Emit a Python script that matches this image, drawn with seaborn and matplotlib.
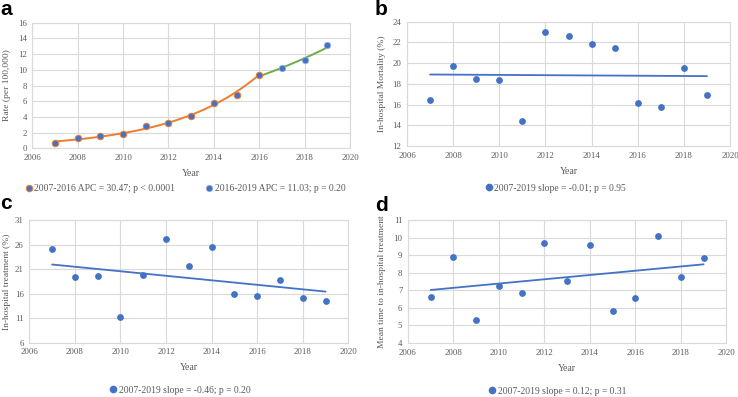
import numpy as np
import pandas as pd
import matplotlib
matplotlib.use("Agg")
import matplotlib.pyplot as plt
import seaborn as sns

# ---------------- data ----------------
years = [2007, 2008, 2009, 2010, 2011, 2012, 2013, 2014, 2015, 2016, 2017, 2018, 2019]
rate = [0.71, 1.31, 1.60, 1.86, 2.84, 3.26, 4.08, 5.73, 6.75, 9.30, 10.19, 11.20, 13.10]
mortality = [16.44, 19.72, 18.47, 18.37, 14.38, 22.97, 22.65, 21.85, 21.49, 16.18, 15.76, 19.53, 16.92]
treatment = [25.2, 19.42, 19.56, 11.19, 19.83, 27.1, 21.67, 25.55, 16.0, 15.48, 18.87, 15.2, 14.58]
time_to_treat = [6.64, 8.93, 5.31, 7.24, 6.84, 9.69, 7.56, 9.58, 5.81, 6.57, 10.09, 7.75, 8.83]

seg1_label = "2007-2016 APC = 30.47; p < 0.0001"
seg2_label = "2016-2019 APC = 11.03; p = 0.20"
b_label = "2007-2019 slope = -0.01; p = 0.95"
c_label = "2007-2019 slope = -0.46; p = 0.20"
d_label = "2007-2019 slope = 0.12; p = 0.31"

BLUE = "#4472C4"
ORANGE = "#ED7D31"
GREEN = "#70AD47"
GRID = "#D9D9D9"
TXT = "#595959"

sns.set_theme(style="white")
plt.rcParams["font.family"] = ["Liberation Serif", "DejaVu Serif"]

fig = plt.figure(figsize=(7.38, 3.97), dpi=100)

pos = {
    "a": [0.0438, 0.6264, 0.4305, 0.3164],
    "b": [0.5515, 0.6322, 0.4377, 0.3131],
    "c": [0.0397, 0.1368, 0.4323, 0.3083],
    "d": [0.5528, 0.1360, 0.4313, 0.3091],
}

def style(ax, ylim, ystep, ylabel, ypad=5):
    ax.set_xlim(2006, 2020)
    ax.set_xticks(np.arange(2006, 2021, 2))
    ax.set_ylim(*ylim)
    ax.set_yticks(np.arange(ylim[0], ylim[1] + 0.01, ystep))
    ax.grid(True, color=GRID, linewidth=0.8)
    ax.set_axisbelow(True)
    for s in ax.spines.values():
        s.set_color(GRID)
        s.set_linewidth(0.8)
    ax.tick_params(axis="both", length=0, labelsize=6.3, colors=TXT, pad=4)
    ax.set_xlabel("Year", fontsize=7, color=TXT, labelpad=5)
    ax.set_ylabel(ylabel, fontsize=6.8, color=TXT, labelpad=ypad)

def add_legend(ax, handles, labels, xc, yc):
    ax.legend(handles, labels, loc="center", bbox_to_anchor=(xc, yc),
              bbox_transform=fig.transFigure, frameon=False, ncol=len(handles),
              fontsize=6.9, handletextpad=0.1, columnspacing=3.0,
              handlelength=1.0, labelcolor=TXT)

# ---------------- panel a ----------------
ax = fig.add_axes(pos["a"])
df = pd.DataFrame({"year": years, "rate": rate})
s1 = df[df.year <= 2016]
s2 = df[df.year >= 2016]

def loglin_fit(d):
    x = d.year.to_numpy(float)
    c = np.polyfit(x, np.log(d.rate.to_numpy(float)), 1)
    xs = np.linspace(x.min(), x.max(), 100)
    return pd.DataFrame({"year": xs, "fit": np.exp(np.polyval(c, xs))})

f1 = loglin_fit(s1)
f2 = loglin_fit(s2)
sns.lineplot(data=f1, x="year", y="fit", color=ORANGE, linewidth=1.4, ax=ax, legend=False)
sns.lineplot(data=f2, x="year", y="fit", color=GREEN, linewidth=1.4, ax=ax, legend=False)
h1 = ax.scatter(s1.year, s1.rate, s=22, color=BLUE, edgecolor=ORANGE, linewidth=0.7, zorder=3)
h2 = ax.scatter(s2.year[1:], s2.rate[1:], s=22, color=BLUE, edgecolor="#9DB3E0", linewidth=0.5, zorder=3)
style(ax, (0, 16), 2, "Rate (per 100,000)")
add_legend(ax, [h1, h2], [seg1_label, seg2_label], 0.25, 0.526)

# ---------------- panels b-d ----------------
def reg_panel(key, vals, ylim, ystep, ylabel, label, legx, legy, ypad=5):
    ax = fig.add_axes(pos[key])
    d = pd.DataFrame({"year": years, "v": vals})
    sns.regplot(data=d, x="year", y="v", ci=None, ax=ax, color=BLUE,
                scatter_kws={"s": 24, "linewidths": 0, "zorder": 3, "alpha": 1},
                line_kws={"linewidth": 1.3})
    style(ax, ylim, ystep, ylabel, ypad)
    h = plt.Line2D([], [], marker="o", linestyle="", color=BLUE, markersize=4.5)
    add_legend(ax, [h], [label], legx, legy)
    return ax

reg_panel("b", mortality, (12, 24), 2, "In-hospital Mortality (%)", b_label, 0.752, 0.526)
reg_panel("c", treatment, (6, 31), 5, "In-hospital treatment (%)", c_label, 0.243, 0.0176, ypad=3)
reg_panel("d", time_to_treat, (4, 11), 1, "Mean time to in-hospital treatment", d_label, 0.755, 0.015)

# panel letters
for letter, x, y in [("a", 0.0, 0.962), ("b", 0.508, 0.962), ("c", 0.0, 0.473), ("d", 0.508, 0.468)]:
    fig.text(x, y, letter, fontsize=15, fontweight="bold", family="Liberation Sans",
             va="baseline", ha="left", color="black")

fig.savefig("out.png", dpi=100)
